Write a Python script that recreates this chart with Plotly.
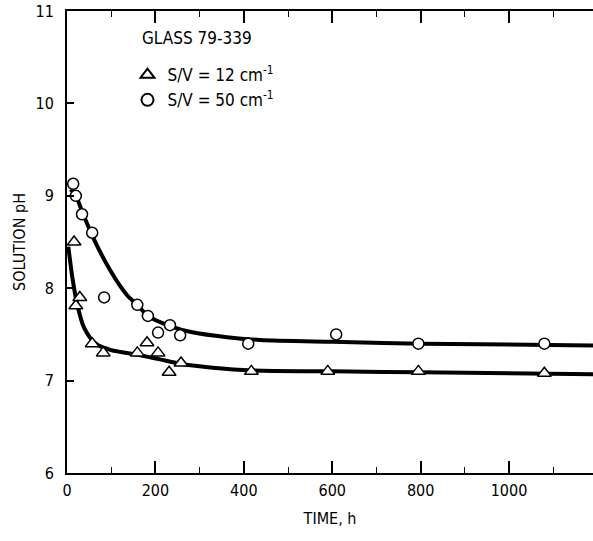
import plotly.graph_objects as go

# Measured solution pH versus leaching time, glass 79-339
time_sv12 = [16, 20, 29, 57, 82, 159, 181, 206, 231, 258, 417, 590, 795, 1080]
ph_sv12 = [8.50, 7.81, 7.90, 7.40, 7.30, 7.30, 7.41, 7.30, 7.09, 7.19, 7.10, 7.10, 7.10, 7.08]

time_sv50 = [14, 20, 34, 57, 84, 159, 183, 206, 233, 256, 410, 609, 795, 1080]
ph_sv50 = [9.13, 9.00, 8.80, 8.60, 7.90, 7.82, 7.70, 7.52, 7.60, 7.49, 7.40, 7.50, 7.40, 7.40]

# Hand-drawn trend curves (knots along each smooth line)
curve12_t = [3, 12, 22, 38, 65, 100, 160, 210, 260, 330, 420, 600, 800, 1190]
curve12_ph = [8.45, 8.12, 7.85, 7.58, 7.40, 7.33, 7.28, 7.23, 7.18, 7.14, 7.11, 7.10, 7.09, 7.07]

curve50_t = [8, 20, 35, 57, 97, 135, 159, 183, 233, 286, 362, 437, 600, 800, 1190]
curve50_ph = [9.07, 9.00, 8.82, 8.57, 8.20, 7.93, 7.82, 7.70, 7.59, 7.52, 7.47, 7.44, 7.42, 7.40, 7.38]

x_ticks = [0, 200, 400, 600, 800, 1000]
y_ticks = [6, 7, 8, 9, 10, 11]

FONT = "DejaVu Sans Condensed, Liberation Sans Narrow, sans-serif"

fig = go.Figure()

fig.add_trace(go.Scatter(x=curve12_t, y=curve12_ph, mode="lines",
                         line=dict(color="black", width=4, shape="spline", smoothing=0.8),
                         showlegend=False, hoverinfo="skip"))
fig.add_trace(go.Scatter(x=curve50_t, y=curve50_ph, mode="lines",
                         line=dict(color="black", width=4, shape="spline", smoothing=0.8),
                         showlegend=False, hoverinfo="skip"))

fig.add_trace(go.Scatter(x=time_sv12, y=ph_sv12, mode="markers",
                         name="S/V = 12 cm<sup>-1</sup>",
                         marker=dict(symbol="triangle-up", size=12, color="white",
                                     line=dict(color="black", width=1.5))))
fig.add_trace(go.Scatter(x=time_sv50, y=ph_sv50, mode="markers",
                         name="S/V = 50 cm<sup>-1</sup>",
                         marker=dict(symbol="circle", size=11, color="white",
                                     line=dict(color="black", width=1.5))))

fig.add_annotation(text="GLASS 79-339", xref="paper", yref="paper",
                   x=0.139, y=0.942, xanchor="left", yanchor="middle",
                   showarrow=False, font=dict(family=FONT, size=17, color="black"))

fig.update_layout(
    width=593, height=541,
    margin=dict(l=67, r=0, t=11, b=68),
    plot_bgcolor="white", paper_bgcolor="white",
    font=dict(family=FONT, size=16, color="black"),
    legend=dict(x=0.115, y=0.900, xanchor="left", yanchor="top",
                bgcolor="rgba(0,0,0,0)", font=dict(family=FONT, size=17),
                itemsizing="constant", tracegroupgap=0),
    xaxis=dict(range=[0, 1190], tickvals=x_ticks, ticks="inside", ticklen=12,
               tickwidth=1.5, tickcolor="black", showline=True, linecolor="black",
               linewidth=2, mirror="ticks", showgrid=False, zeroline=False,
               ticklabelstandoff=2,
               minor=dict(dtick=100, ticks="inside", ticklen=6, tickwidth=1.2,
                          tickcolor="black", showgrid=False),
               title=dict(text="TIME, h", standoff=14, font=dict(family=FONT, size=16))),
    yaxis=dict(range=[6, 11], tickvals=y_ticks, ticks="inside", ticklen=7,
               tickwidth=1.5, tickcolor="black", showline=True, linecolor="black",
               linewidth=2, mirror=False, showgrid=False, zeroline=False,
               ticklabelstandoff=8,
               title=dict(text="SOLUTION pH", standoff=6, font=dict(family=FONT, size=16))),
)

fig.write_html("out.html")
